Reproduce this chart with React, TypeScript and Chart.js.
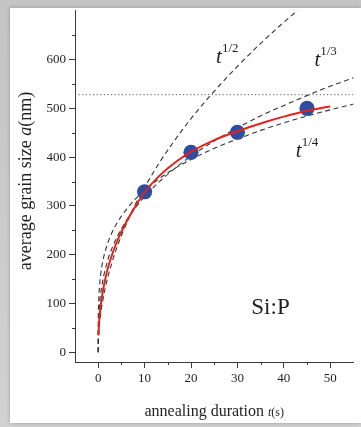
import { useEffect, useRef } from 'react';
import { Chart, registerables } from 'chart.js';

Chart.register(...registerables);

// ---------- data ----------
const measuredT = [10, 20, 30, 45];
const measuredSize = [329, 410, 451, 500];

const fitT = [0.05, 0.2, 0.5, 1, 1.7, 2.5, 4, 6, 8, 10, 13, 17, 20, 25, 30, 36, 40, 45, 50];
const fitSize = [35, 62, 92, 125, 158, 186, 226, 266, 299, 328, 360, 392, 411, 435, 453, 472, 483, 495, 504];

const powerT = [0, 0.01, 0.05, 0.1, 0.25, 0.5, 1, 2, 3, 4, 6, 8, 10, 13, 16, 20, 25, 30, 36, 42, 48, 56];
const halfPowerSize = [0, 11, 24, 34, 54, 76, 107, 151, 185, 214, 262, 303, 338, 386, 428, 479, 535, 586, 642, 693, 741, 801];
const thirdPowerSize = [0, 32, 55, 69, 93, 118, 148, 187, 214, 235, 269, 296, 319, 348, 373, 402, 433, 460, 489, 514, 538, 566];
const quarterPowerSize = [0, 59, 88, 105, 132, 157, 187, 222, 246, 264, 292, 314, 332, 355, 374, 395, 418, 437, 458, 476, 492, 511];

const plateauT = [-5, 60];
const plateauSize = [528, 528];

const xTickValues = [0, 10, 20, 30, 40, 50];
const xMinorTickValues = [5, 15, 25, 35, 45];
const yTickValues = [0, 100, 200, 300, 400, 500, 600];
const yMinorTickValues = [50, 150, 250, 350, 450, 550, 650];

const curveLabels = ['1/2', '1/3', '1/4'];
const curveLabelT = [25.4, 46.6, 42.6];
const curveLabelSize = [593, 587, 400];
const sampleLabel = 'Si:P';
const sampleLabelT = 33;
const sampleLabelSize = 79;

const SERIF = "'Liberation Serif', 'Times New Roman', serif";
const AXIS_COLOR = '#3a3a3a';

const zip = (xs: number[], ys: number[]) => xs.map((x, i) => ({ x, y: ys[i] }));

type Run = { text: string; font: string; dy?: number };

function drawRuns(ctx: CanvasRenderingContext2D, runs: Run[], x: number, y: number, align: 'left' | 'center') {
  let total = 0;
  const widths = runs.map((r) => {
    ctx.font = r.font;
    const w = ctx.measureText(r.text).width;
    total += w;
    return w;
  });
  let cx = align === 'center' ? x - total / 2 : x;
  ctx.textAlign = 'left';
  ctx.textBaseline = 'alphabetic';
  runs.forEach((r, i) => {
    ctx.font = r.font;
    ctx.fillText(r.text, cx, y + (r.dy || 0));
    cx += widths[i];
  });
}

const minorTicksPlugin = {
  id: 'minorTicks',
  afterDraw(chart: any) {
    const { ctx, chartArea, scales } = chart;
    ctx.save();
    ctx.strokeStyle = AXIS_COLOR;
    ctx.lineWidth = 1;
    ctx.beginPath();
    xMinorTickValues.forEach((v) => {
      const px = Math.round(scales.x.getPixelForValue(v)) + 0.5;
      ctx.moveTo(px, chartArea.bottom);
      ctx.lineTo(px, chartArea.bottom + 3);
    });
    yMinorTickValues.forEach((v) => {
      const py = Math.round(scales.y.getPixelForValue(v)) + 0.5;
      ctx.moveTo(chartArea.left - 3, py);
      ctx.lineTo(chartArea.left, py);
    });
    ctx.stroke();
    ctx.restore();
  },
};

const textPlugin = {
  id: 'textLabels',
  afterDraw(chart: any) {
    const { ctx, chartArea, scales } = chart;
    ctx.save();
    ctx.fillStyle = '#1e1e1e';
    // x title
    drawRuns(
      ctx,
      [
        { text: 'annealing duration ', font: `16px ${SERIF}` },
        { text: 't', font: `italic 12px ${SERIF}` },
        { text: '(s)', font: `12px ${SERIF}` },
      ],
      (chartArea.left + chartArea.right) / 2,
      416,
      'center'
    );
    // y title
    ctx.save();
    ctx.translate(31, 181);
    ctx.rotate(-Math.PI / 2);
    drawRuns(
      ctx,
      [
        { text: 'average grain size ', font: `18px ${SERIF}` },
        { text: 'a', font: `italic 18px ${SERIF}` },
        { text: '(nm)', font: `18px ${SERIF}` },
      ],
      0,
      0,
      'center'
    );
    ctx.restore();
    // power-law labels
    curveLabels.forEach((lab, i) => {
      const px = scales.x.getPixelForValue(curveLabelT[i]);
      const py = scales.y.getPixelForValue(curveLabelSize[i]);
      drawRuns(
        ctx,
        [
          { text: 't', font: `italic 21px ${SERIF}` },
          { text: lab, font: `13px ${SERIF}`, dy: -11 },
        ],
        px,
        py,
        'left'
      );
    });
    // sample label
    drawRuns(
      ctx,
      [{ text: sampleLabel, font: `23px ${SERIF}` }],
      scales.x.getPixelForValue(sampleLabelT),
      scales.y.getPixelForValue(sampleLabelSize),
      'left'
    );
    ctx.restore();
  },
};

export default function App() {
  const canvasRef = useRef<HTMLCanvasElement | null>(null);

  useEffect(() => {
    if (!canvasRef.current) return;
    const dashed = {
      borderColor: '#333333',
      borderWidth: 1.1,
      borderDash: [5, 3.5],
      pointRadius: 0,
      showLine: true,
      cubicInterpolationMode: 'monotone' as const,
      fill: false,
    };
    const chart = new Chart(canvasRef.current, {
      type: 'scatter',
      data: {
        datasets: [
          {
            label: 'fit',
            data: zip(fitT, fitSize),
            borderColor: '#e3231b',
            borderWidth: 2,
            pointRadius: 0,
            showLine: true,
            cubicInterpolationMode: 'monotone',
            fill: false,
          },
          {
            label: 'measured',
            data: zip(measuredT, measuredSize),
            backgroundColor: '#2f4c9f',
            borderColor: '#2f4c9f',
            borderWidth: 0,
            pointRadius: 7.6,
            showLine: false,
          },
          { label: 't^1/2', data: zip(powerT, halfPowerSize), ...dashed },
          { label: 't^1/3', data: zip(powerT, thirdPowerSize), ...dashed },
          { label: 't^1/4', data: zip(powerT, quarterPowerSize), ...dashed },
          {
            label: 'plateau',
            data: zip(plateauT, plateauSize),
            borderColor: '#555555',
            borderWidth: 1,
            borderDash: [1.2, 2.4],
            pointRadius: 0,
            showLine: true,
            fill: false,
          },
        ],
      },
      options: {
        responsive: false,
        animation: false,
        devicePixelRatio: 1,
        layout: { padding: { top: 8, right: 0, left: 0, bottom: 0 } },
        plugins: {
          legend: { display: false },
          tooltip: { enabled: false },
          title: { display: false },
        },
        scales: {
          x: {
            type: 'linear',
            min: -5,
            max: 55,
            afterBuildTicks: (s: any) => {
              s.ticks = xTickValues.map((v) => ({ value: v }));
            },
            afterFit: (s: any) => {
              s.height = 65;
            },
            grid: {
              drawOnChartArea: false,
              drawTicks: true,
              tickLength: 6,
              color: AXIS_COLOR,
            },
            border: { display: true, color: AXIS_COLOR, width: 1 },
            ticks: {
              font: { family: SERIF, size: 13 },
              color: '#1e1e1e',
              padding: 3,
              maxRotation: 0,
              callback: (v: any) => String(v),
            },
          },
          y: {
            type: 'linear',
            min: -20,
            max: 700,
            afterBuildTicks: (s: any) => {
              s.ticks = yTickValues.map((v) => ({ value: v }));
            },
            afterFit: (s: any) => {
              s.width = 75;
            },
            grid: {
              drawOnChartArea: false,
              drawTicks: true,
              tickLength: 6,
              color: AXIS_COLOR,
            },
            border: { display: true, color: AXIS_COLOR, width: 1 },
            ticks: {
              font: { family: SERIF, size: 13 },
              color: '#1e1e1e',
              padding: 3,
              callback: (v: any) => String(v),
            },
          },
        },
      },
      plugins: [minorTicksPlugin, textPlugin],
    });
    return () => chart.destroy();
  }, []);

  return (
    <div
      style={{
        position: 'fixed',
        left: 0,
        top: 0,
        width: 361,
        height: 427,
        background: 'linear-gradient(to bottom, #c4c4c4, #d2d2d2)',
        overflow: 'hidden',
      }}
    >
      <div
        style={{
          position: 'absolute',
          left: 10,
          top: 8,
          width: 351,
          height: 415,
          background: '#ffffff',
          boxShadow: '0 0 4px rgba(0,0,0,0.25)',
        }}
      />
      <canvas
        ref={canvasRef}
        width={361}
        height={427}
        style={{ position: 'absolute', left: 0, top: 0, width: 361, height: 427 }}
      />
    </div>
  );
}
